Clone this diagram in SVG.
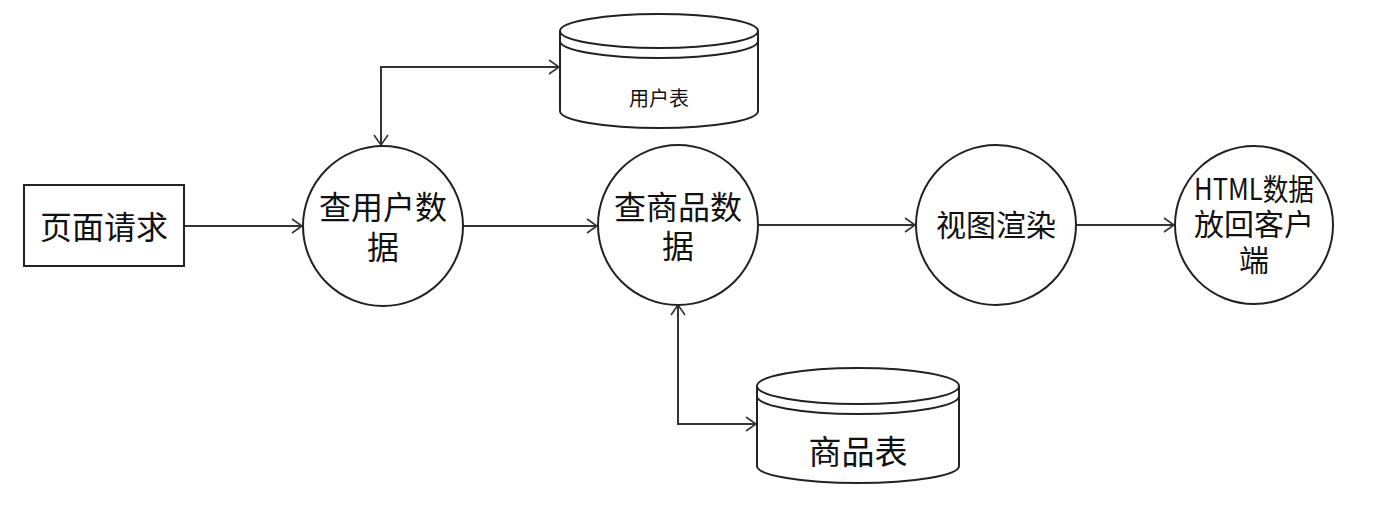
<svg xmlns="http://www.w3.org/2000/svg" width="1390" height="512" viewBox="0 0 1390 512">
<style>
.s{fill:#fff;stroke:#222;stroke-width:2}
.n{fill:none;stroke:#222;stroke-width:2}
.c{fill:none;stroke:#333;stroke-width:2}
text{font-family:"Noto Sans CJK SC","Noto Sans",sans-serif;fill:#111;text-anchor:middle;dominant-baseline:central}
</style>
<defs>
<marker id="a" viewBox="0 0 12 16" refX="11" refY="8" markerWidth="12" markerHeight="16" markerUnits="userSpaceOnUse" orient="auto-start-reverse">
<path d="M1,1 L11,8 L1,15" fill="none" stroke="#333" stroke-width="1.6"/>
</marker>
</defs>
<rect width="1390" height="512" fill="#fff"/>
<g id="connectors">
<line class="c" x1="184" y1="226" x2="302" y2="226" marker-end="url(#a)"/>
<line class="c" x1="463" y1="226" x2="597" y2="226" marker-end="url(#a)"/>
<line class="c" x1="758" y1="225" x2="915" y2="225" marker-end="url(#a)"/>
<line class="c" x1="1076" y1="225" x2="1174" y2="225" marker-end="url(#a)"/>
<path class="c" d="M381,145 V67 H559" marker-start="url(#a)" marker-end="url(#a)"/>
<path class="c" d="M678,305 V424 H756" marker-start="url(#a)" marker-end="url(#a)"/>
</g>
<g id="page-request">
<rect class="s" x="24" y="185" width="160" height="81"/>
<text x="104" y="225" font-size="32">页面请求</text>
</g>
<g id="query-user">
<circle class="s" cx="383" cy="226" r="80"/>
<text x="383" y="205" font-size="32">查用户数</text>
<text x="383" y="245" font-size="32">据</text>
</g>
<g id="query-goods">
<circle class="s" cx="678" cy="225" r="80"/>
<text x="678" y="205" font-size="32">查商品数</text>
<text x="678" y="244" font-size="32">据</text>
</g>
<g id="render">
<circle class="s" cx="996" cy="225" r="80"/>
<text x="996" y="223" font-size="30">视图渲染</text>
</g>
<g id="return-html">
<circle class="s" cx="1254" cy="225" r="79"/>
<text x="1254" y="187" font-size="30" textLength="120" lengthAdjust="spacingAndGlyphs">HTML数据</text>
<text x="1254" y="222" font-size="30">放回客户</text>
<text x="1254" y="258" font-size="30">端</text>
</g>
<g id="user-table">
<path class="s" d="M560,31 V111 A99,17 0 0 0 758,111 V31"/>
<ellipse class="s" cx="659" cy="31" rx="99" ry="17"/>
<path class="n" d="M560,41 A99,17 0 0 0 758,41"/>
<text x="659" y="97" font-size="20" fill="#222">用户表</text>
</g>
<g id="goods-table">
<path class="s" d="M757,386 V466 A101,17 0 0 0 959,466 V386"/>
<ellipse class="s" cx="858" cy="386" rx="101" ry="18"/>
<path class="n" d="M757,396 A101,18 0 0 0 959,396"/>
<text x="858" y="450" font-size="33">商品表</text>
</g>
</svg>
